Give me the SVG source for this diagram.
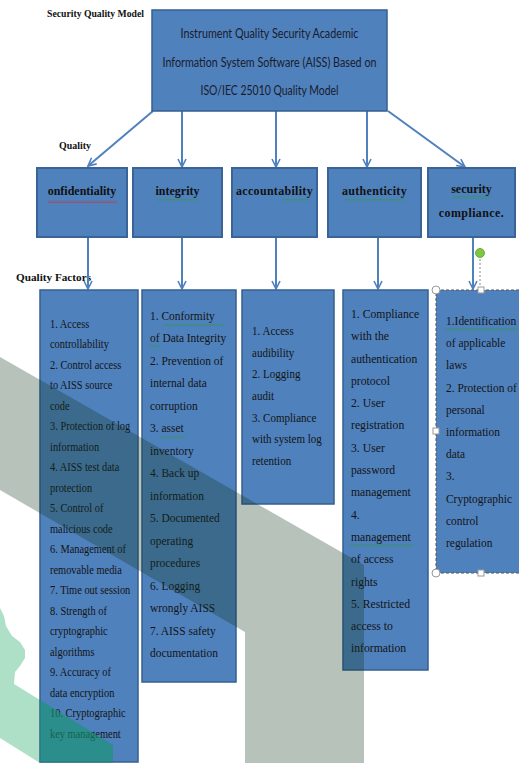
<svg xmlns="http://www.w3.org/2000/svg" width="519" height="763" viewBox="0 0 519 763">
<style>
.box{fill:#4f81bd;stroke:#345f91;stroke-width:1.5}
.qbox{fill:#4f81bd;stroke:#3a6497;stroke-width:2}
.con{stroke:#4f81bd;stroke-width:2;fill:none}
.lbl{font-family:"Liberation Serif","Times New Roman",serif;font-weight:bold;fill:#111}
.q{font-family:"Liberation Serif","Times New Roman",serif;font-weight:bold;font-size:12px;fill:#111;text-anchor:middle}
.top{font-family:Lato,"Open Sans",sans-serif;font-size:13px;fill:#1b1b2b;text-anchor:middle}
.f{font-family:"Liberation Serif","Times New Roman",serif;font-size:13px;fill:#141414}
.h{fill:#fff;stroke:#999;stroke-width:1}
</style>
<defs>
<marker id="arr" viewBox="0 0 10 10" refX="9" refY="5" markerWidth="10" markerHeight="10" markerUnits="userSpaceOnUse" orient="auto">
<path d="M1,1 L9,5 L1,9" fill="none" stroke="#4f81bd" stroke-width="1.6"/>
</marker>
<pattern id="wr" width="4" height="3" patternUnits="userSpaceOnUse"><path d="M0,2.5 L2,0.5 L4,2.5" fill="none" stroke="#d22" stroke-width="0.9"/></pattern>
<pattern id="wg" width="4" height="3" patternUnits="userSpaceOnUse"><path d="M0,2.5 L2,0.5 L4,2.5" fill="none" stroke="#2a9a3a" stroke-width="0.9"/></pattern>
</defs>
<rect width="519" height="763" fill="#fff"/>
<!-- green watermark (under) -->
<polygon points="0,608 4,616 6,626 12,636 20,642 25,650 25,658 20,666 15,672 14,684 113,745 113,763 40,763 0,738" fill="#aedfc7"/>

<text class="lbl" x="47" y="17" font-size="11" textLength="97" lengthAdjust="spacingAndGlyphs">Security Quality Model</text>
<text class="lbl" x="59" y="149" font-size="11" textLength="32" lengthAdjust="spacingAndGlyphs">Quality</text>
<text class="lbl" x="16" y="281" font-size="11" textLength="75" lengthAdjust="spacingAndGlyphs">Quality Factors</text>

<g id="connectors">
<line class="con" x1="153" y1="111" x2="88" y2="166" marker-end="url(#arr)"/>
<line class="con" x1="182" y1="111" x2="182" y2="167" marker-end="url(#arr)"/>
<line class="con" x1="276" y1="111" x2="276" y2="167" marker-end="url(#arr)"/>
<line class="con" x1="367" y1="111" x2="367" y2="167" marker-end="url(#arr)"/>
<line class="con" x1="388" y1="111" x2="465" y2="167" marker-end="url(#arr)"/>
<line class="con" x1="88" y1="237" x2="88" y2="289" marker-end="url(#arr)"/>
<line class="con" x1="182" y1="237" x2="182" y2="289" marker-end="url(#arr)"/>
<line class="con" x1="276" y1="237" x2="276" y2="289" marker-end="url(#arr)"/>
<line class="con" x1="378" y1="237" x2="378" y2="289" marker-end="url(#arr)"/>
<line class="con" x1="473" y1="237" x2="473" y2="289" marker-end="url(#arr)"/>
</g>

<g id="root">
<rect class="box" x="152" y="10" width="235" height="101"/>
<text class="top" x="269.5" y="37.5" textLength="178" lengthAdjust="spacingAndGlyphs">Instrument Quality Security Academic</text>
<text class="top" x="269.5" y="66.5" textLength="214" lengthAdjust="spacingAndGlyphs">Information System Software (AISS) Based on</text>
<text class="top" x="269.5" y="95" textLength="138" lengthAdjust="spacingAndGlyphs">ISO/IEC 25010 Quality Model</text>
</g>

<g id="q-confidentiality">
<rect class="qbox" x="37" y="168" width="90" height="69"/>
<text class="q" x="82" y="195">onfidentiality</text>
<rect x="48" y="200" width="69" height="3" fill="url(#wr)"/>
</g>
<g id="q-integrity">
<rect class="qbox" x="133" y="168" width="89" height="69"/>
<text class="q" x="177.5" y="195">integrity</text>
<rect x="157" y="199" width="41" height="3" fill="url(#wg)"/>
</g>
<g id="q-accountability">
<rect class="qbox" x="232" y="168" width="85" height="69"/>
<text class="q" x="274.5" y="195" letter-spacing="0.3">accountability</text>
<rect x="282" y="199" width="26" height="3" fill="url(#wg)"/>
</g>
<g id="q-authenticity">
<rect class="qbox" x="328" y="168" width="93" height="69"/>
<text class="q" x="374.5" y="195" letter-spacing="0.3">authenticity</text>
<rect x="345" y="199" width="60" height="3" fill="url(#wg)"/>
</g>
<g id="q-compliance">
<rect class="qbox" x="428" y="168" width="87" height="69"/>
<text class="q" x="471.5" y="193">security</text>
<text class="q" x="471.5" y="217" letter-spacing="0.4">compliance.</text>
<rect x="452" y="196" width="38" height="3" fill="url(#wg)"/>
</g>

<g id="f-confidentiality">
<rect class="box" x="40" y="290" width="98" height="472"/>
<g transform="translate(50,0) scale(0.8,1)">
<text class="f" y="328"><tspan x="0">1. Access</tspan><tspan x="0" dy="20.5">controllability</tspan><tspan x="0" dy="20.5">2. Control access</tspan><tspan x="0" dy="20.5">to AISS source</tspan><tspan x="0" dy="20.5">code</tspan><tspan x="0" dy="20.5">3. Protection of log</tspan><tspan x="0" dy="20.5">information</tspan><tspan x="0" dy="20.5">4. AISS test data</tspan><tspan x="0" dy="20.5">protection</tspan><tspan x="0" dy="20.5">5. Control of</tspan><tspan x="0" dy="20.5">malicious code</tspan><tspan x="0" dy="20.5">6. Management of</tspan><tspan x="0" dy="20.5">removable media</tspan><tspan x="0" dy="20.5">7. Time out session</tspan><tspan x="0" dy="20.5">8. Strength of</tspan><tspan x="0" dy="20.5">cryptographic</tspan><tspan x="0" dy="20.5">algorithms</tspan><tspan x="0" dy="20.5">9. Accuracy of</tspan><tspan x="0" dy="20.5">data encryption</tspan><tspan x="0" dy="20.5">10. Cryptographic</tspan><tspan x="0" dy="20.5">key management</tspan></text>
</g>
</g>

<g id="f-integrity">
<rect class="box" x="142" y="290" width="94" height="392"/>
<g transform="translate(150,0) scale(0.88,1)">
<text class="f" y="320"><tspan x="0">1. Conformity</tspan><tspan x="0" dy="22.5">of Data Integrity</tspan><tspan x="0" dy="22.5">2. Prevention of</tspan><tspan x="0" dy="22.5">internal data</tspan><tspan x="0" dy="22.5">corruption</tspan><tspan x="0" dy="22.5">3. asset</tspan><tspan x="0" dy="22.5">inventory</tspan><tspan x="0" dy="22.5">4. Back up</tspan><tspan x="0" dy="22.5">information</tspan><tspan x="0" dy="22.5">5. Documented</tspan><tspan x="0" dy="22.5">operating</tspan><tspan x="0" dy="22.5">procedures</tspan><tspan x="0" dy="22.5">6. Logging</tspan><tspan x="0" dy="22.5">wrongly AISS</tspan><tspan x="0" dy="22.5">7. AISS safety</tspan><tspan x="0" dy="22.5">documentation</tspan></text>
</g>
<rect x="163" y="323" width="60" height="3" fill="url(#wg)"/>
<rect x="150" y="344" width="11" height="3" fill="url(#wg)"/>
<rect x="161" y="436" width="25" height="3" fill="url(#wg)"/>
</g>

<g id="f-accountability">
<rect class="box" x="242" y="290" width="92" height="214"/>
<g transform="translate(252,0) scale(0.85,1)">
<text class="f" y="335"><tspan x="0">1. Access</tspan><tspan x="0" dy="21.7">audibility</tspan><tspan x="0" dy="21.7">2. Logging</tspan><tspan x="0" dy="21.7">audit</tspan><tspan x="0" dy="21.7">3. Compliance</tspan><tspan x="0" dy="21.7">with system log</tspan><tspan x="0" dy="21.7">retention</tspan></text>
</g>
</g>

<g id="f-authenticity">
<rect class="box" x="343" y="290" width="85" height="380"/>
<g transform="translate(351,0) scale(0.9,1)">
<text class="f" y="318"><tspan x="0">1. Compliance</tspan><tspan x="0" dy="22.3">with the</tspan><tspan x="0" dy="22.3">authentication</tspan><tspan x="0" dy="22.3">protocol</tspan><tspan x="0" dy="22.3">2. User</tspan><tspan x="0" dy="22.3">registration</tspan><tspan x="0" dy="22.3">3. User</tspan><tspan x="0" dy="22.3">password</tspan><tspan x="0" dy="22.3">management</tspan><tspan x="0" dy="22.3">4.</tspan><tspan x="0" dy="22.3">management</tspan><tspan x="0" dy="22.3">of access</tspan><tspan x="0" dy="22.3">rights</tspan><tspan x="0" dy="22.3">5. Restricted</tspan><tspan x="0" dy="22.3">access to</tspan><tspan x="0" dy="22.3">information</tspan></text>
</g>
<rect x="350" y="544" width="63" height="3" fill="url(#wg)"/>
</g>

<g id="f-compliance">
<rect x="436" y="290" width="90" height="283" fill="#4f81bd" stroke="#555" stroke-width="1" stroke-dasharray="3,2"/>
<g transform="translate(446,0) scale(0.88,1)">
<text class="f" y="325"><tspan x="0">1.Identification</tspan><tspan x="0" dy="22.2">of applicable</tspan><tspan x="0" dy="22.2">laws</tspan><tspan x="0" dy="22.2">2. Protection of</tspan><tspan x="0" dy="22.2">personal</tspan><tspan x="0" dy="22.2">information</tspan><tspan x="0" dy="22.2">data</tspan><tspan x="0" dy="22.2">3.</tspan><tspan x="0" dy="22.2">Cryptographic</tspan><tspan x="0" dy="22.2">control</tspan><tspan x="0" dy="22.2">regulation</tspan></text>
</g>
<rect x="446" y="328" width="72" height="3" fill="url(#wg)"/>
</g>

<!-- watermark overlays -->
<polygon points="0,357 364,565 364,763 245,763 245,632 0,490" fill="#11351e" fill-opacity="0.3"/>
<polygon points="40,700 113,745 113,762 40,762" fill="#14966a" fill-opacity="0.6"/>

<!-- selection handles -->
<line x1="480" y1="259" x2="480" y2="286" stroke="#888" stroke-width="1" stroke-dasharray="2,2"/>
<circle cx="480" cy="253" r="4.5" fill="#7cc940" stroke="#5a9a30" stroke-width="0.8"/>
<circle class="h" cx="436" cy="290" r="4"/>
<circle class="h" cx="436" cy="573" r="4"/>
<rect class="h" x="478" y="287" width="6" height="6"/>
<rect class="h" x="433" y="428" width="6" height="6"/>
<rect class="h" x="478" y="570" width="6" height="6"/>
</svg>
